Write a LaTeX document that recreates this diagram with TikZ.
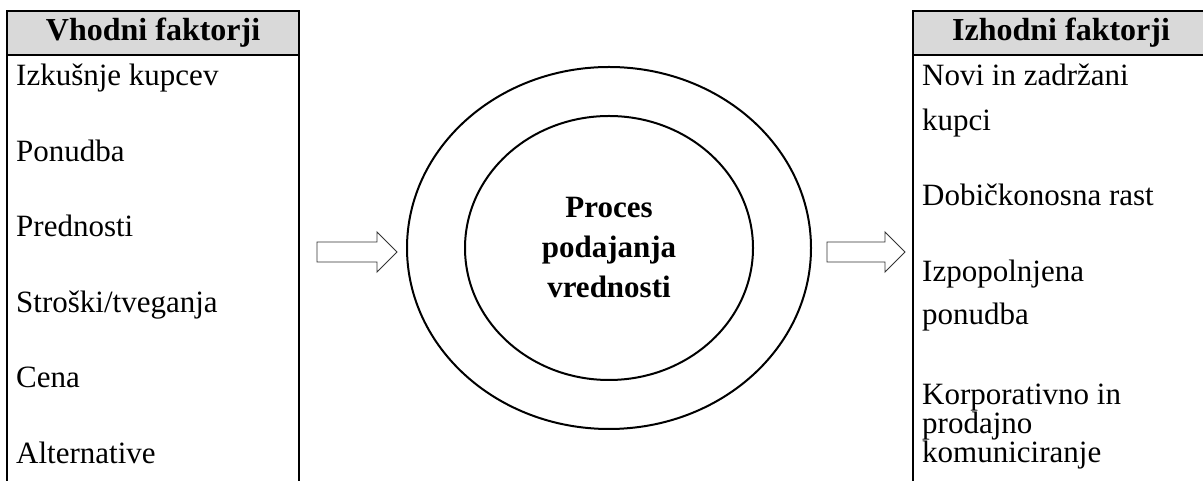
\documentclass[tikz,border=0pt]{standalone}
\usepackage{fontspec}
\setmainfont{Liberation Serif}
\usetikzlibrary{shapes.geometric}
\begin{document}
\begin{tikzpicture}[x=1pt,y=1pt,
  txt/.style={font=\fontsize{31}{31}\selectfont, inner sep=0pt},
  hdrtxt/.style={font=\fontsize{32}{32}\selectfont\bfseries, inner sep=0pt},
  item/.style={txt, anchor=base west, align=left},
  hdrbox/.style={draw=black, line width=2.2pt, fill=black!15, inner sep=0pt},
  colbox/.style={draw=black, line width=2.2pt, inner sep=0pt},
  ring/.style={draw=black, line width=2pt, ellipse, inner sep=0pt},
  blockarrow/.style={draw=black!80, line width=0.9pt, fill=white, line join=miter}
]
\useasboundingbox (0,0) rectangle (1203,481);
\clip (0,0) rectangle (1203,481);
\fill[white] (0,0) rectangle (1203,481);

% input column
\node[colbox, minimum width=292, minimum height=490, anchor=north west] (inbox) at (6,471) {};
\node[hdrbox, minimum width=292, minimum height=44, anchor=north west] (inhead) at (6,471) {};
\node[hdrtxt] (inheadtxt) at (inhead.center) {Vhodni faktorji};

\node[item] (in1) at (16,395) {Izkušnje kupcev};
\node[item] (in2) at (16,319.5) {Ponudba};
\node[item] (in3) at (16,244) {Prednosti};
\node[item] (in4) at (16,168.5) {Stroški/tveganja};
\node[item] (in5) at (16,93) {Cena};
\node[item] (in6) at (16,17.5) {Alternative};

% output column (base anchor sits on the last line of each entry)
\node[colbox, minimum width=296, minimum height=490, anchor=north west] (outbox) at (912,471) {};
\node[hdrbox, minimum width=296, minimum height=44, anchor=north west] (outhead) at (912,471) {};
\node[hdrtxt] (outheadtxt) at (outhead.center) {Izhodni faktorji};

\node[item, font=\fontsize{31}{45}\selectfont] (out1) at (922,350) {Novi in zadržani\\kupci};
\node[item] (out2) at (922,275) {Dobičkonosna rast};
\node[item, font=\fontsize{31}{43}\selectfont] (out3) at (922,156) {Izpopolnjena\\ponudba};
\node[item, font=\fontsize{31}{29}\selectfont] (out4) at (922,18) {Korporativno in\\prodajno\\komuniciranje};

% process rings
\node[ring, minimum width=404, minimum height=362] (outer) at (609,233) {};
\node[ring, minimum width=288, minimum height=264] (inner) at (outer.center) {};
\node[hdrtxt, align=center, font=\fontsize{31}{40}\selectfont\bfseries] (proc) at (inner.center) {Proces\\podajanja\\vrednosti};

% flow arrows
\coordinate (a1) at (317,229);
\coordinate (a2) at (827,229);
\draw[blockarrow] (a1) ++(0,10) -- ++(60,0) -- ++(0,10) -- ++(20,-20) -- ++(-20,-20) -- ++(0,10) -- ++(-60,0) -- cycle;
\draw[blockarrow] (a2) ++(0,10) -- ++(58,0) -- ++(0,10) -- ++(20,-20) -- ++(-20,-20) -- ++(0,10) -- ++(-58,0) -- cycle;
\end{tikzpicture}
\end{document}
